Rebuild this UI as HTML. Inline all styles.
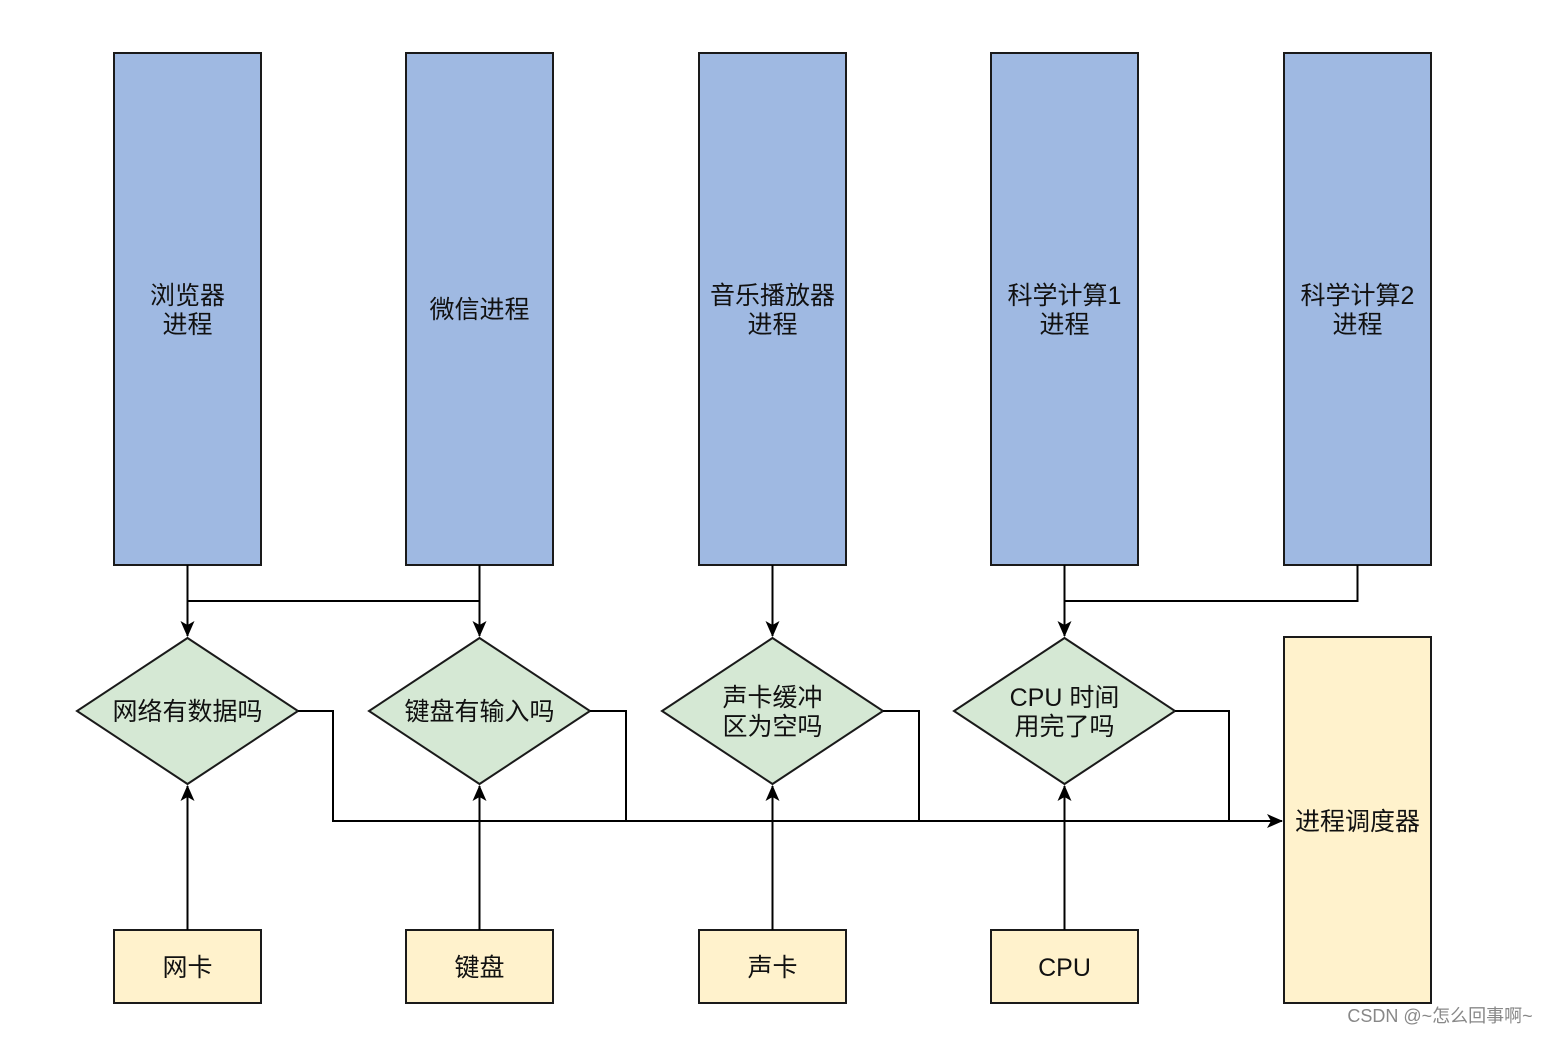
<!DOCTYPE html>
<html><head><meta charset="utf-8"><style>
html,body{margin:0;padding:0;background:#fff}
svg text{font-family:"Liberation Sans","Noto Sans CJK SC",sans-serif;font-size:25px;fill:#111;text-anchor:middle}
</style></head><body>
<svg width="1552" height="1034" viewBox="0 0 1552 1034" xmlns="http://www.w3.org/2000/svg">
<defs><marker id="a" viewBox="0 0 10 10" refX="9" refY="5" markerWidth="10" markerHeight="10" markerUnits="userSpaceOnUse" orient="auto"><path d="M0,0 L10,5 L0,10 L3,5 z" fill="#000"/></marker>
<marker id="b" viewBox="0 0 16 14" refX="15" refY="7" markerWidth="16" markerHeight="14" markerUnits="userSpaceOnUse" orient="auto"><path d="M0,0 L16,7 L0,14 L4,7 z" fill="#000"/></marker></defs>
<g stroke="#1a1a1a" stroke-width="2">
<rect x="114" y="53" width="147" height="512" fill="#9fb9e2"/>
<rect x="406" y="53" width="147" height="512" fill="#9fb9e2"/>
<rect x="699" y="53" width="147" height="512" fill="#9fb9e2"/>
<rect x="991" y="53" width="147" height="512" fill="#9fb9e2"/>
<rect x="1284" y="53" width="147" height="512" fill="#9fb9e2"/>
<polygon points="187.5,638 298,711 187.5,784 77,711" fill="#d5e8d4"/>
<polygon points="479.5,638 590,711 479.5,784 369,711" fill="#d5e8d4"/>
<polygon points="772.5,638 883,711 772.5,784 662,711" fill="#d5e8d4"/>
<polygon points="1064.5,638 1175,711 1064.5,784 954,711" fill="#d5e8d4"/>
<rect x="114" y="930" width="147" height="73" fill="#fff2cc"/>
<rect x="406" y="930" width="147" height="73" fill="#fff2cc"/>
<rect x="699" y="930" width="147" height="73" fill="#fff2cc"/>
<rect x="991" y="930" width="147" height="73" fill="#fff2cc"/>
<rect x="1284" y="637" width="147" height="366" fill="#fff2cc"/>
</g>
<g stroke="#000" stroke-width="2" fill="none">
<path d="M187.5,565 V636" marker-end="url(#b)"/>
<path d="M479.5,565 V636" marker-end="url(#b)"/>
<path d="M187.5,601 H479.5"/>
<path d="M772.5,565 V636" marker-end="url(#b)"/>
<path d="M1064.5,565 V636" marker-end="url(#b)"/>
<path d="M1357.5,565 V601 H1064.5"/>
<path d="M187.5,930 V786" marker-end="url(#b)"/>
<path d="M479.5,930 V786" marker-end="url(#b)"/>
<path d="M772.5,930 V786" marker-end="url(#b)"/>
<path d="M1064.5,930 V786" marker-end="url(#b)"/>
<path d="M298,711 H333 V821 H1282" marker-end="url(#b)"/>
<path d="M590,711 H626 V821"/>
<path d="M883,711 H919 V821"/>
<path d="M1175,711 H1229 V821"/>
</g>
<text x="187.5" y="304">浏览器</text><text x="187.5" y="333">进程</text>
<text x="479.5" y="318">微信进程</text>
<text x="772.5" y="304">音乐播放器</text><text x="772.5" y="333">进程</text>
<text x="1064.5" y="304">科学计算1</text><text x="1064.5" y="333">进程</text>
<text x="1357.5" y="304">科学计算2</text><text x="1357.5" y="333">进程</text>
<text x="187.5" y="720">网络有数据吗</text>
<text x="479.5" y="720">键盘有输入吗</text>
<text x="772.5" y="706">声卡缓冲</text><text x="772.5" y="735">区为空吗</text>
<text x="1064.5" y="706">CPU 时间</text><text x="1064.5" y="735">用完了吗</text>
<text x="187.5" y="976">网卡</text>
<text x="479.5" y="976">键盘</text>
<text x="772.5" y="976">声卡</text>
<text x="1064.5" y="976">CPU</text>
<text x="1357.5" y="830">进程调度器</text>
<text x="1440" y="1022" style="font-size:18px;fill:#888">CSDN @~怎么回事啊~</text>
</svg>
</body></html>
